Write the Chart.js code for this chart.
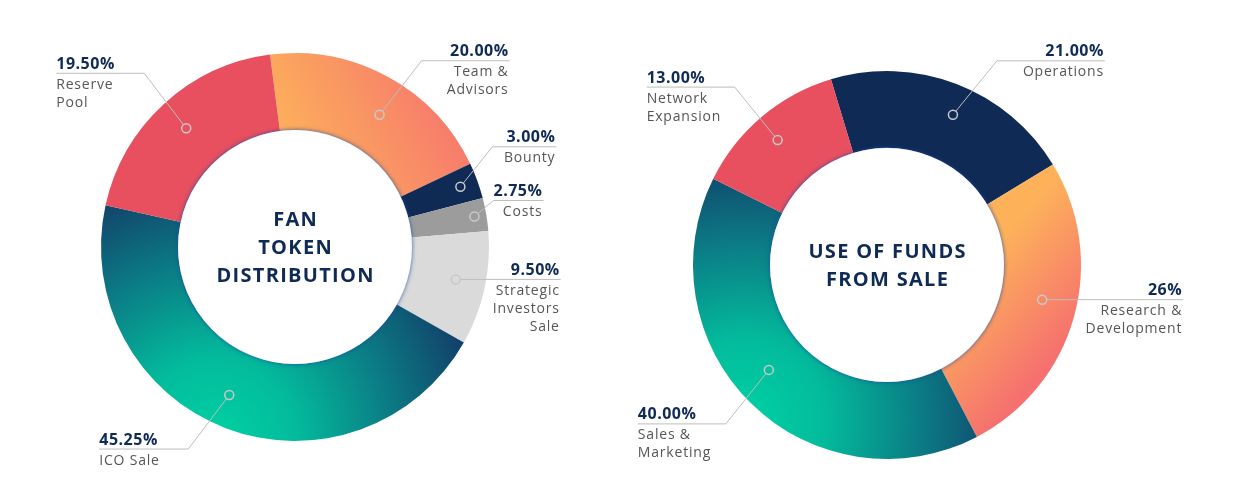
<!DOCTYPE html>
<html>
<head>
<meta charset="utf-8">
<script src="https://cdn.jsdelivr.net/npm/chart.js@4.4.1/dist/chart.umd.min.js"></script>
<style>
  body { margin: 0; background: #fff; }
  .box { position: absolute; top: 0; width: 620px; height: 488px; }
</style>
</head>
<body>
<div class="box" style="left:0"><canvas id="tokenChart"></canvas></div>
<div class="box" style="left:620px"><canvas id="fundsChart"></canvas></div>
<script>
// fan token distribution (clockwise from top)
const tokenLabels = [['Team &', 'Advisors'], ['Bounty'], ['Costs'], ['Strategic', 'Investors', 'Sale'], ['ICO Sale'], ['Reserve', 'Pool']];
const tokenValues = [20, 3, 2.75, 9.5, 45.25, 19.5];
const tokenPct = ['20.00%', '3.00%', '2.75%', '9.50%', '45.25%', '19.50%'];
const tokenTitle = ['FAN', 'TOKEN', 'DISTRIBUTION'];

// use of funds from sale
const fundsLabels = [['Operations'], ['Research &', 'Development'], ['Sales &', 'Marketing'], ['Network', 'Expansion']];
const fundsValues = [21, 26, 40, 13];
const fundsPct = ['21.00%', '26%', '40.00%', '13.00%'];
const fundsTitle = ['USE OF FUNDS', 'FROM SALE'];

const NAVY = '#0f2a54';
const FONT = '"Open Sans", "Noto Sans", sans-serif';

// gradient helpers, relative to the ring centre
function ringCentre(chart) {
    const a = chart.chartArea;
    return { x: (a.left + a.right) / 2, y: (a.top + a.bottom) / 2 };
}
function tealFill(chart, ox, oy) {
    const c = ringCentre(chart);
    const g = chart.ctx.createRadialGradient(c.x + ox, c.y + oy, 0, c.x + ox, c.y + oy, 270);
    g.addColorStop(0, '#00d1a3');
    g.addColorStop(0.3, '#03bb9c');
    g.addColorStop(0.65, '#0b7c85');
    g.addColorStop(1, '#123d68');
    return g;
}
function peachFill(chart, x0, y0, x1, y1) {
    const c = ringCentre(chart);
    const g = chart.ctx.createLinearGradient(c.x + x0, c.y + y0, c.x + x1, c.y + y1);
    g.addColorStop(0, '#fdb25a');
    g.addColorStop(1, '#f5706f');
    return g;
}

const ringLabels = {
    id: 'ringLabels',
    afterDatasetsDraw(chart, args, opts) {
        const ctx = chart.ctx;
        const meta = chart.getDatasetMeta(0);
        const first = meta.data[0];
        const cx = first.x, cy = first.y;

        // white hole with soft shadow on its rim
        ctx.save();
        ctx.beginPath();
        ctx.arc(cx, cy, first.innerRadius, 0, Math.PI * 2);
        ctx.shadowColor = 'rgba(25,70,160,0.85)';
        ctx.shadowBlur = 4;
        ctx.fillStyle = '#fff';
        ctx.fill();
        ctx.restore();

        // centre title
        ctx.save();
        ctx.fillStyle = NAVY;
        ctx.font = 'bold 20px ' + FONT;
        ctx.letterSpacing = '1.3px';
        ctx.textAlign = 'center';
        ctx.textBaseline = 'middle';
        const t = opts.title;
        t.forEach((line, k) => {
            ctx.fillText(line, cx + 0.6, cy + (k - (t.length - 1) / 2) * 28 + 1);
        });
        ctx.restore();

        meta.data.forEach((arc, i) => {
            const L = opts.layout[i];
            const mid = (arc.startAngle + arc.endAngle) / 2 + (L.a || 0) * Math.PI / 180;
            const px = cx + Math.cos(mid) * L.r;
            const py = cy + Math.sin(mid) * L.r;
            const ex = px + L.dx, ey = py + L.dy;
            const endX = L.side === 'R' ? ex + L.w : ex - L.w;

            ctx.save();
            ctx.strokeStyle = '#bdbdbd';
            ctx.lineWidth = 1;
            ctx.beginPath();
            if (L.dx || L.dy) {
                const d = Math.hypot(L.dx, L.dy);
                ctx.moveTo(px + L.dx / d * 4.5, py + L.dy / d * 4.5);
                ctx.lineTo(ex, ey);
                ctx.lineTo(endX, ey);
            } else {
                ctx.moveTo(px + 4.5, ey);
                ctx.lineTo(endX, ey);
            }
            ctx.stroke();

            // marker ring
            ctx.beginPath();
            ctx.arc(px, py, 4.5, 0, Math.PI * 2);
            ctx.strokeStyle = '#c9c9c9';
            ctx.lineWidth = 1.5;
            ctx.stroke();

            // texts
            const tx = L.side === 'R' ? endX - 1 : endX;
            ctx.textAlign = L.side === 'R' ? 'right' : 'left';
            ctx.textBaseline = 'alphabetic';
            ctx.fillStyle = NAVY;
            ctx.font = 'bold 16px ' + FONT;
            ctx.letterSpacing = '0.5px';
            ctx.fillText(opts.pct[i], tx, ey - 4.5);
            ctx.fillStyle = '#555';
            ctx.font = '14px ' + FONT;
            ctx.letterSpacing = '0.8px';
            opts.labels[i].forEach((line, k) => {
                ctx.fillText(line, tx, ey + 15.5 + k * 18);
            });
            ctx.restore();
        });
    }
};

function makeDonut(id, values, colors, rotation, padding, label) {
    return new Chart(document.getElementById(id), {
        type: 'doughnut',
        data: {
            labels: label.labels.map(l => l.join(' ')),
            datasets: [{
                data: values,
                backgroundColor: c => {
                    const f = colors[c.dataIndex];
                    return typeof f === 'function' ? f(c) : f;
                },
                borderWidth: 0,
                hoverOffset: 0
            }]
        },
        options: {
            responsive: true,
            maintainAspectRatio: false,
            animation: false,
            rotation: rotation,
            radius: 194,
            cutout: 117,
            layout: { padding: padding },
            events: [],
            plugins: {
                legend: { display: false },
                tooltip: { enabled: false },
                ringLabels: label
            }
        },
        plugins: [ringLabels]
    });
}

makeDonut('tokenChart', tokenValues, [
    c => c.chart.chartArea ? peachFill(c.chart, -15, -97, 165, -187) : '#f9906a',
    NAVY,
    '#9c9c9c',
    '#dadada',
    c => c.chart.chartArea ? tealFill(c.chart, -80, 193) : '#0b8a8a',
    '#e8505f'
], -7.4, { left: 101, right: 131, top: 53, bottom: 47 }, {
    title: tokenTitle,
    pct: tokenPct,
    labels: tokenLabels,
    layout: [
        { r: 157, a: 4, dx: 42, dy: -54, w: 88, side: 'R' },
        { r: 176, dx: 32, dy: -40, w: 64, side: 'R' },
        { r: 182, dx: 19, dy: -16, w: 50, side: 'R' },
        { r: 164, a: -1, dx: 0, dy: 0, w: 105, side: 'R' },
        { r: 162, a: 3, dx: -41, dy: 54, w: 89, side: 'L' },
        { r: 161, dx: -42, dy: -55, w: 88, side: 'L' }
    ]
});

makeDonut('fundsChart', fundsValues, [
    NAVY,
    c => c.chart.chartArea ? peachFill(c.chart, 103, -15, 193, 65) : '#f9906a',
    c => c.chart.chartArea ? tealFill(c.chart, -142, 155) : '#0b8a8a',
    '#e8505f'
], -16.8, { left: 73, right: 159, top: 71, bottom: 29 }, {
    title: fundsTitle,
    pct: fundsPct,
    labels: fundsLabels,
    layout: [
        { r: 164, a: 2.7, dx: 44, dy: -54, w: 108, side: 'R' },
        { r: 159, a: -3, dx: 0, dy: 0, w: 141, side: 'R' },
        { r: 158, a: 4, dx: -43, dy: 54, w: 88, side: 'L' },
        { r: 166, a: -1, dx: -43, dy: -53, w: 88, side: 'L' }
    ]
});
</script>
</body>
</html>
